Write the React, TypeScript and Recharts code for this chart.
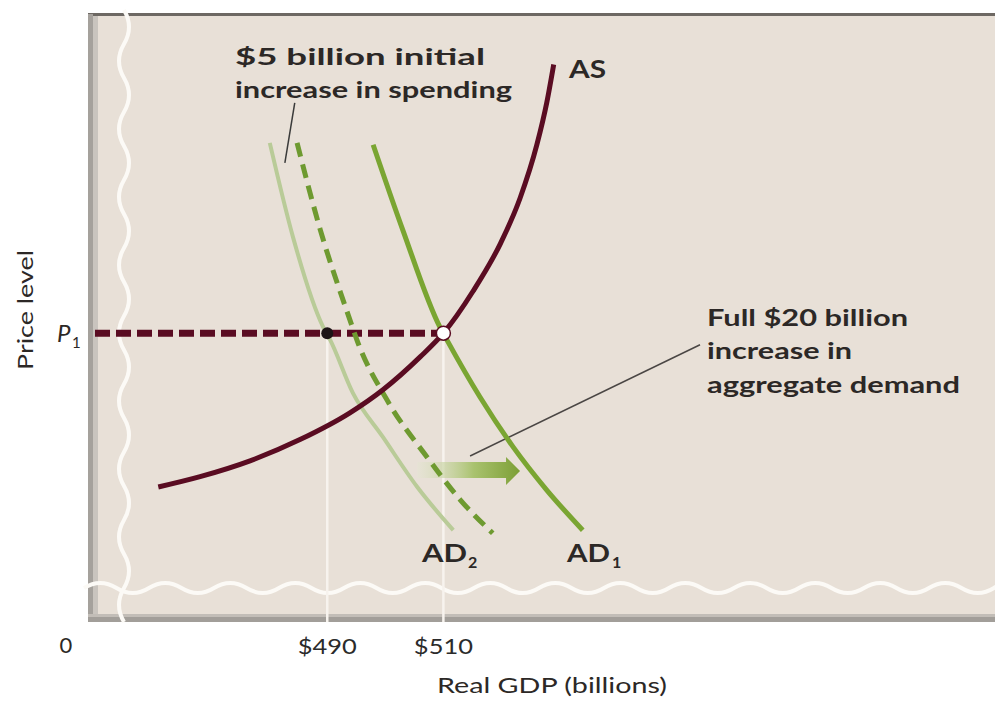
import { Line, LineChart, ReferenceDot, ReferenceLine, XAxis, YAxis } from "recharts";

const W = 995;
const H = 701;
const FONT = "Lato, 'Open Sans', sans-serif";

// price level index (0-100 scale), real GDP in billions
const P1 = 47.5;
const gdpTicks = [490, 510];
const gdpDomain = [450, 605];
const priceDomain = [0, 100];

const asCurve = [
    { x: 460.9, y: 22.2 },
    { x: 468.1, y: 23.9 },
    { x: 476.7, y: 26.5 },
    { x: 485.3, y: 30 },
    { x: 493.9, y: 34.4 },
    { x: 499.6, y: 38.2 },
    { x: 506, y: 43.6 },
    { x: 510, y: 47.5 },
    { x: 515.1, y: 54.4 },
    { x: 519.8, y: 62.2 },
    { x: 523.2, y: 69.7 },
    { x: 526.1, y: 78.5 },
    { x: 527.8, y: 85.4 },
    { x: 529, y: 91.7 },
];

const ad2Curve = [
    { x: 480.1, y: 78.8 },
    { x: 484.1, y: 63.3 },
    { x: 489.3, y: 48.5 },
    { x: 490.5, y: 46.4 },
    { x: 494.4, y: 37.7 },
    { x: 499.6, y: 30.4 },
    { x: 505.5, y: 22.2 },
    { x: 511.7, y: 15.1 },
];

const adInitialCurve = [
    { x: 484.8, y: 78.8 },
    { x: 488.8, y: 64.5 },
    { x: 493.9, y: 49.7 },
    { x: 495.1, y: 46.4 },
    { x: 500.3, y: 36.5 },
    { x: 507.2, y: 27.1 },
    { x: 512.9, y: 20.1 },
    { x: 518.5, y: 14.6 },
];

const ad1Curve = [
    { x: 497.9, y: 78.5 },
    { x: 503, y: 64.5 },
    { x: 509.4, y: 48.5 },
    { x: 510.6, y: 46.4 },
    { x: 516.3, y: 37 },
    { x: 522, y: 28.8 },
    { x: 527.8, y: 21.7 },
    { x: 534, y: 15.1 },
];

const spendingLeader = [
    { x: 484.4, y: 85.4 },
    { x: 482.7, y: 75.5 },
];
const demandLeader = [
    { x: 514.6, y: 27.3 },
    { x: 554.2, y: 45.6 },
];
const shiftArrow = [
    { x: 505.5, y: 25 },
    { x: 523.2, y: 25 },
];

const MAROON = "#5a0c22";

// decorative axis-break squiggles
const waveV = (x: number, y0: number, periods: number, period: number, amp: number) => {
    let d = `M${x},${y0}`;
    for (let i = 0; i < periods; i++) {
        d += ` q${amp * 2},${period / 4} 0,${period / 2} q${-amp * 2},${period / 4} 0,${period / 2}`;
    }
    return d;
};
const waveH = (y: number, x0: number, periods: number, period: number, amp: number) => {
    let d = `M${x0},${y}`;
    for (let i = 0; i < periods; i++) {
        d += ` q${period / 4},${-amp * 2} ${period / 2},0 q${period / 4},${amp * 2} ${period / 2},0`;
    }
    return d;
};

const ArrowShape = (props: any) => {
    const { x1, y1, x2 } = props;
    const head = 14;
    const d = `M${x1},${y1 - 8} L${x2 - head},${y1 - 8} L${x2 - head},${y1 - 13} L${x2},${y1 + 1} L${x2 - head},${y1 + 15} L${x2 - head},${y1 + 8} L${x1},${y1 + 8} Z`;
    return (
        <g>
            <defs>
                <linearGradient id="shiftGrad" x1="0" y1="0" x2="1" y2="0">
                    <stop offset="0%" stopColor="#e4e6d2" stopOpacity={0.4} />
                    <stop offset="55%" stopColor="#a9c26e" />
                    <stop offset="100%" stopColor="#7c9f36" />
                </linearGradient>
            </defs>
            <path d={d} fill="url(#shiftGrad)" />
        </g>
    );
};

const GdpTick = (props: any) => {
    const { x, y, payload } = props;
    return (
        <text
            x={x}
            y={y}
            dy={16}
            textAnchor="middle"
            fill="#2b2b2b"
            fontSize={22}
            fontFamily={FONT}
            textLength={59}
            lengthAdjust="spacingAndGlyphs"
        >
            ${payload.value}
        </text>
    );
};

const Background = () => (
    <svg width={W} height={H} style={{ position: "absolute", left: 0, top: 0 }}>
        <rect x={88} y={14} width={W - 88} height={608} fill="#e8e0d7" />
        <line x1={88} y1={14.5} x2={W} y2={14.5} stroke="#6d6863" strokeWidth={3} />
        <rect x={88} y={14} width={5} height={608} fill="#a5a19c" />
        <rect x={93} y={16} width={5} height={606} fill="#c9c4be" />
        <rect x={88} y={614} width={W - 88} height={3} fill="#c2bdb7" />
        <rect x={88} y={617} width={W - 88} height={5} fill="#a29e99" />
        <path d={waveH(588, 84, 16, 65, 5)} stroke="#fcfaf6" strokeWidth={4} fill="none" />
        <path d={waveV(124, 10, 9, 68, 5)} stroke="#fcfaf6" strokeWidth={4} fill="none" />
    </svg>
);

const Texts = () => (
    <svg
        width={W}
        height={H}
        style={{ position: "absolute", left: 0, top: 0, pointerEvents: "none" }}
        fontFamily={FONT}
    >
        <g fill="#2c2826" fontWeight={700} fontSize={22}>
            <text x={235} y={65} textLength={250} lengthAdjust="spacingAndGlyphs">
                $5 billion initial
            </text>
            <text x={235} y={98} textLength={277} lengthAdjust="spacingAndGlyphs">
                increase in spending
            </text>
            <text x={569} y={78} fontSize={24} textLength={37} lengthAdjust="spacingAndGlyphs">
                AS
            </text>
            <text x={707} y={326} textLength={201} lengthAdjust="spacingAndGlyphs">
                Full $20 billion
            </text>
            <text x={707} y={359} textLength={145} lengthAdjust="spacingAndGlyphs">
                increase in
            </text>
            <text x={707} y={393} textLength={253} lengthAdjust="spacingAndGlyphs">
                aggregate demand
            </text>
            <text x={422} y={562} fontSize={24} textLength={45} lengthAdjust="spacingAndGlyphs">
                AD
            </text>
            <text x={468} y={568} fontSize={16}>
                2
            </text>
            <text x={567} y={562} fontSize={24} textLength={43} lengthAdjust="spacingAndGlyphs">
                AD
            </text>
            <text x={612} y={568} fontSize={16}>
                1
            </text>
        </g>
        <g fill="#2c2826" fontSize={22}>
            <text x={57} y={342} fontStyle="italic" fontSize={24}>
                P
            </text>
            <text x={72} y={348} fontSize={15}>
                1
            </text>
            <text x={66} y={653} textAnchor="middle">
                0
            </text>
            <text x={437} y={693} textLength={230} lengthAdjust="spacingAndGlyphs">
                Real GDP (billions)
            </text>
            <text
                transform="translate(33, 310) rotate(-90)"
                textAnchor="middle"
                fontSize={21}
                textLength={120}
                lengthAdjust="spacingAndGlyphs"
            >
                Price level
            </text>
        </g>
    </svg>
);

export default function App() {
    return (
        <div style={{ position: "absolute", left: 0, top: 0, width: W, height: H, background: "#fff" }}>
            <Background />
            <div style={{ position: "absolute", left: 0, top: 0 }}>
                <LineChart width={W} height={H} margin={{ top: 14, right: 0, left: 95, bottom: 19 }}>
                    <XAxis
                        dataKey="x"
                        type="number"
                        domain={gdpDomain}
                        allowDataOverflow
                        ticks={gdpTicks}
                        axisLine={false}
                        tickLine={false}
                        tickMargin={10}
                        height={60}
                        tick={GdpTick}
                    />
                    <YAxis type="number" domain={priceDomain} allowDataOverflow hide />
                    <ReferenceLine
                        segment={[
                            { x: 490, y: 0 },
                            { x: 490, y: P1 },
                        ]}
                        stroke="#f7f3ee"
                        strokeWidth={2.5}
                    />
                    <ReferenceLine
                        segment={[
                            { x: 510, y: 0 },
                            { x: 510, y: P1 },
                        ]}
                        stroke="#f7f3ee"
                        strokeWidth={2.5}
                    />
                    <ReferenceLine
                        segment={[
                            { x: gdpDomain[0], y: P1 },
                            { x: 510, y: P1 },
                        ]}
                        stroke={MAROON}
                        strokeWidth={7}
                        strokeDasharray="15 6"
                    />
                    <ReferenceLine segment={spendingLeader} stroke="#3a3a3a" strokeWidth={1.5} />
                    <ReferenceLine segment={demandLeader} stroke="#4a4644" strokeWidth={1.5} />
                    <ReferenceLine segment={shiftArrow} shape={ArrowShape} />
                    <Line
                        data={ad2Curve}
                        dataKey="y"
                        type="monotone"
                        stroke="#b9cb98"
                        strokeWidth={4}
                        dot={false}
                        activeDot={false}
                        isAnimationActive={false}
                    />
                    <Line
                        data={adInitialCurve}
                        dataKey="y"
                        type="monotone"
                        stroke="#6e9a30"
                        strokeWidth={5}
                        strokeDasharray="14 8"
                        dot={false}
                        activeDot={false}
                        isAnimationActive={false}
                    />
                    <Line
                        data={ad1Curve}
                        dataKey="y"
                        type="monotone"
                        stroke="#7aa532"
                        strokeWidth={5}
                        dot={false}
                        activeDot={false}
                        isAnimationActive={false}
                    />
                    <Line
                        data={asCurve}
                        dataKey="y"
                        type="monotone"
                        stroke={MAROON}
                        strokeWidth={5}
                        dot={false}
                        activeDot={false}
                        isAnimationActive={false}
                    />
                    <ReferenceDot x={490} y={P1} r={6} fill="#1c1416" stroke="none" />
                    <ReferenceDot x={510} y={P1} r={7} fill="#ffffff" stroke={MAROON} strokeWidth={1.5} />
                </LineChart>
            </div>
            <Texts />
        </div>
    );
}
